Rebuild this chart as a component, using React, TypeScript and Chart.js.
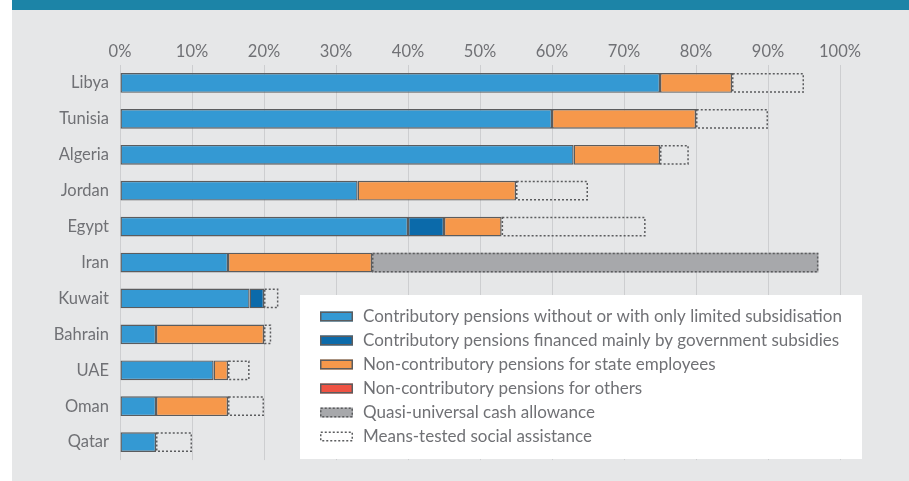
import React, { useEffect, useRef } from "react";
import { Chart, registerables } from "chart.js";

Chart.register(...registerables);

const categories = ["Libya", "Tunisia", "Algeria", "Jordan", "Egypt", "Iran", "Kuwait", "Bahrain", "UAE", "Oman", "Qatar"];
const contributory = [75, 60, 63, 33, 40, 15, 18, 5, 13, 5, 5];
const govSubsidised = [null, null, null, null, 5, null, 2, null, null, null, null];
const stateEmployees = [10, 20, 12, 22, 8, 20, null, 15, 2, 10, null];
const othersNonContrib = [null, null, null, null, null, null, null, null, null, null, null];
const quasiUniversal = [null, null, null, null, null, 62, null, null, null, null, null];
const meansTested = [10, 10, 4, 10, 20, null, 2, 1, 3, 5, 5];
const xTicks = [0, 10, 20, 30, 40, 50, 60, 70, 80, 90, 100];

const seriesLabels = [
  "Contributory pensions without or with only limited subsidisation",
  "Contributory pensions financed mainly by government subsidies",
  "Non-contributory pensions for state employees",
  "Non-contributory pensions for others",
  "Quasi-universal cash allowance",
  "Means-tested social assistance",
];

const COLORS = {
  blue: "#3499d3",
  darkBlue: "#0b6aaa",
  orange: "#f6984b",
  red: "#ef5243",
  gray: "#a7a8ab",
  none: "rgba(0,0,0,0)",
  border: "#5b5c5e",
  text: "#707175",
  grid: "#cdced0",
  panel: "#e6e7e8",
  teal: "#1c84a7",
};

const FONT = "Lato, 'Open Sans', sans-serif";
const dottedIdx = [4, 5];

const dottedPlugin = {
  id: "dottedBars",
  afterDatasetsDraw(chart: any) {
    const ctx = chart.ctx;
    ctx.save();
    dottedIdx.forEach((di) => {
      const meta = chart.getDatasetMeta(di);
      meta.data.forEach((el: any, i: number) => {
        const v = chart.data.datasets[di].data[i];
        if (v === null || v === undefined) return;
        const p = el.getProps(["x", "y", "base", "height"], true);
        const left = Math.min(p.x, p.base);
        const right = Math.max(p.x, p.base);
        const top = p.y - p.height / 2;
        ctx.setLineDash([2, 2]);
        ctx.lineWidth = 1.5;
        ctx.strokeStyle = COLORS.border;
        ctx.strokeRect(left + 0.75, top + 0.75, right - left - 1.5, p.height - 1.5);
      });
    });
    ctx.restore();
  },
};

const legendPlugin = {
  id: "boxLegend",
  afterDraw(chart: any) {
    const ctx = chart.ctx;
    ctx.save();
    ctx.fillStyle = "#ffffff";
    ctx.fillRect(300, 295, 562, 164);
    const fills = [COLORS.blue, COLORS.darkBlue, COLORS.orange, COLORS.red, COLORS.gray, COLORS.none];
    seriesLabels.forEach((label, i) => {
      const cy = 316.5 + i * 24;
      const x = 320;
      const y = cy - 5;
      ctx.fillStyle = fills[i];
      ctx.fillRect(x, y, 33, 10);
      ctx.lineWidth = 1.5;
      ctx.strokeStyle = COLORS.border;
      if (i >= 4) ctx.setLineDash([2, 2]);
      else ctx.setLineDash([]);
      ctx.strokeRect(x + 0.75, y + 0.75, 31.5, 8.5);
      ctx.setLineDash([]);
      ctx.fillStyle = COLORS.text;
      ctx.font = `17px ${FONT}`;
      ctx.textBaseline = "middle";
      ctx.textAlign = "left";
      ctx.fillText(label, 363, cy);
    });
    ctx.restore();
  },
};

export default function App() {
  const ref = useRef<HTMLCanvasElement>(null);

  useEffect(() => {
    const solid = (data: any[], color: string, label: string) => ({
      label,
      data,
      backgroundColor: color,
      borderColor: COLORS.border,
      borderWidth: 1.4,
      borderSkipped: false,
    });
    const chart = new Chart(ref.current as HTMLCanvasElement, {
      type: "bar",
      data: {
        labels: categories,
        datasets: [
          solid(contributory, COLORS.blue, seriesLabels[0]),
          solid(govSubsidised, COLORS.darkBlue, seriesLabels[1]),
          solid(stateEmployees, COLORS.orange, seriesLabels[2]),
          solid(othersNonContrib, COLORS.red, seriesLabels[3]),
          { label: seriesLabels[4], data: quasiUniversal, backgroundColor: COLORS.gray, borderWidth: 0 },
          { label: seriesLabels[5], data: meansTested, backgroundColor: COLORS.none, borderWidth: 0 },
        ] as any,
      },
      options: {
        indexAxis: "y",
        responsive: false,
        animation: false,
        devicePixelRatio: 1,
        datasets: { bar: { barPercentage: 0.55, categoryPercentage: 1 } } as any,
        layout: { padding: { left: 0, right: 69, top: 0, bottom: 15 } },
        plugins: { legend: { display: false }, tooltip: { enabled: false } },
        scales: {
          x: {
            position: "top",
            stacked: true,
            min: 0,
            max: 100,
            afterBuildTicks: (scale: any) => {
              scale.ticks = xTicks.map((v) => ({ value: v }));
            },
            afterFit: (scale: any) => {
              scale.height = 65;
            },
            border: { display: false },
            grid: { color: COLORS.grid, lineWidth: 1, drawTicks: false },
            ticks: {
              padding: 3,
              color: COLORS.text,
              font: { family: FONT, size: 16.5 },
              callback: (v: any) => `${v}%`,
            },
          },
          y: {
            stacked: true,
            afterFit: (scale: any) => {
              scale.width = 120;
            },
            border: { display: false },
            grid: { display: false, drawTicks: false },
            ticks: {
              padding: 11,
              color: COLORS.text,
              font: { family: FONT, size: 16.5 },
            },
          },
        },
      } as any,
      plugins: [dottedPlugin, legendPlugin],
    });
    return () => chart.destroy();
  }, []);

  return (
    <div style={{ position: "absolute", left: 0, top: 0, width: 909, height: 481, background: "#ffffff", overflow: "hidden" }}>
      <div style={{ position: "absolute", left: 12, top: 0, width: 897, height: 10, background: COLORS.teal }} />
      <div style={{ position: "absolute", left: 12, top: 10, width: 897, height: 471, background: COLORS.panel }} />
      <canvas ref={ref} width={909} height={481} style={{ position: "absolute", left: 0, top: 0, width: 909, height: 481 }} />
    </div>
  );
}
